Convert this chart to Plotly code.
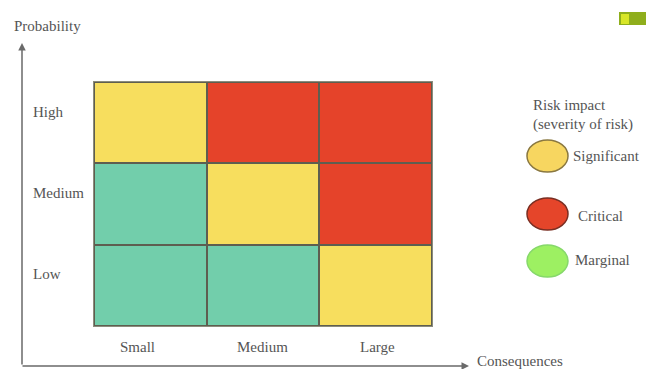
import plotly.graph_objects as go

# Risk matrix data
consequences = ["Small", "Medium", "Large"]
probability = ["Low", "Medium", "High"]
impact = [
    ["Marginal", "Marginal", "Significant"],      # Low
    ["Marginal", "Significant", "Critical"],      # Medium
    ["Significant", "Critical", "Critical"],      # High
]
levels = ["Marginal", "Significant", "Critical"]
cell_colors = {"Marginal": "#72CEAB", "Significant": "#F7DE5E", "Critical": "#E5432A"}

legend_items = ["Significant", "Critical", "Marginal"]
legend_fill = {"Significant": "#F7D660", "Critical": "#E5452A", "Marginal": "#9DF062"}
legend_edge = {"Significant": "#8A7840", "Critical": "#7A2E22", "Marginal": "#86D86A"}

W, H = 646, 369
FONT = "'Liberation Serif', 'Times New Roman', Times, serif"
TXT = "#555555"

def px(x):
    return x / W

def py(y):
    return 1 - y / H

def label(x, y, text, **kw):
    d = dict(x=x, y=y, xref="paper", yref="paper", text=text, showarrow=False,
             xanchor="left", yanchor="middle",
             font=dict(family=FONT, size=15, color=TXT))
    d.update(kw)
    return d

z = [[levels.index(v) for v in row] for row in impact]
n = len(levels)
scale = []
for i, lv in enumerate(levels):
    scale.append([i / n, cell_colors[lv]])
    scale.append([(i + 1) / n, cell_colors[lv]])

fig = go.Figure(go.Heatmap(
    x=consequences, y=probability, z=z,
    zmin=-0.5, zmax=n - 0.5, colorscale=scale, showscale=False,
    xgap=2, ygap=2, hoverinfo="skip",
))

annotations = []
# probability row labels
for p in probability:
    annotations.append(label(px(31), p, p, yref="y", yshift=11))
# consequence column labels
col_shift = {"Small": -13, "Medium": -1, "Large": 2}
for c in consequences:
    annotations.append(label(c, py(347), c, xref="x", xanchor="center",
                             xshift=col_shift[c]))

# axis arrows
annotations.append(dict(x=px(22), y=py(43), xref="paper", yref="paper", text="",
                        showarrow=True, ax=0, ay=323, arrowhead=2, arrowsize=1,
                        arrowwidth=1.5, arrowcolor="#6a6a6a"))
annotations.append(dict(x=px(469), y=py(366), xref="paper", yref="paper", text="",
                        showarrow=True, ax=-448, ay=0, arrowhead=2, arrowsize=1,
                        arrowwidth=1.5, arrowcolor="#6a6a6a"))
annotations.append(label(px(12), py(26), "Probability"))
annotations.append(label(px(475), py(361), "Consequences"))

# legend title
annotations.append(label(px(531), py(105), "Risk impact"))
annotations.append(label(px(531), py(124), "(severity of risk)"))

shapes = []
legend_y = {"Significant": 156, "Critical": 214, "Marginal": 261}
legend_tx = {"Significant": 571, "Critical": 576, "Marginal": 573}
legend_ty = {"Significant": 156, "Critical": 216, "Marginal": 260}
for item in legend_items:
    cy = legend_y[item]
    shapes.append(dict(type="circle", xref="paper", yref="paper",
                       x0=px(527), x1=px(568), y0=py(cy + 16), y1=py(cy - 16),
                       fillcolor=legend_fill[item],
                       line=dict(color=legend_edge[item], width=1.5)))
    annotations.append(label(px(legend_tx[item]), py(legend_ty[item]), item))

# small logo in the top-right corner
shapes.append(dict(type="rect", xref="paper", yref="paper",
                   x0=px(619), x1=px(646), y0=py(25), y1=py(12),
                   fillcolor="#8FAE1C", line=dict(width=0)))
shapes.append(dict(type="rect", xref="paper", yref="paper",
                   x0=px(621), x1=px(629), y0=py(24), y1=py(14),
                   fillcolor="#D8E628", line=dict(width=0)))

fig.update_layout(
    width=W, height=H,
    margin=dict(l=0, r=0, t=0, b=0),
    font=dict(family=FONT, size=15, color=TXT),
    paper_bgcolor="white",
    plot_bgcolor="#5E5E50",
    showlegend=False,
    annotations=annotations,
    shapes=shapes,
    xaxis=dict(domain=[px(94), px(432)], showticklabels=False, showgrid=False,
               zeroline=False, showline=True, mirror=True, linecolor="#8C8C7C",
               linewidth=1, fixedrange=True),
    yaxis=dict(domain=[py(326), py(82)], showticklabels=False, showgrid=False,
               zeroline=False, showline=True, mirror=True, linecolor="#8C8C7C",
               linewidth=1, fixedrange=True),
)

fig.write_html("out.html")
